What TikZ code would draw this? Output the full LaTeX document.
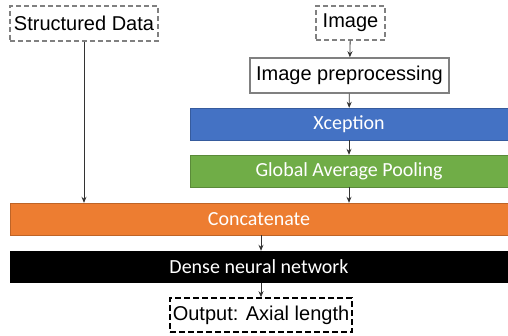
\documentclass[tikz,border=0pt]{standalone}
\usepackage{fontspec}
\setmainfont{Liberation Sans}
\newfontfamily\calfont{Carlito}
\usepackage{tikz}
\usetikzlibrary{arrows.meta}
\definecolor{xblue}{HTML}{4472C4}
\definecolor{pgreen}{HTML}{70AD47}
\definecolor{corange}{HTML}{ED7D31}
\definecolor{boxgray}{HTML}{808080}

\tikzset{
  inbox/.style={draw=boxgray, dashed, dash pattern=on 5pt off 3pt, line width=1.3pt, inner sep=0pt, font=\fontsize{20}{24}\selectfont},
  prebox/.style={draw=boxgray, line width=1.5pt, inner sep=0pt, font=\fontsize{20}{24}\selectfont},
  layer/.style={inner sep=0pt, text=white, font=\calfont\fontsize{20}{24}\selectfont},
  outbox/.style={draw=black, dash pattern=on 6pt off 3pt, line width=1.6pt, inner sep=0pt, font=\fontsize{20}{24}\selectfont},
  flow/.style={draw=black!80, line width=0.8pt, -{Stealth[length=6pt,width=5pt]}}
}

\begin{document}
\begin{tikzpicture}[x=1pt,y=1pt]
 \useasboundingbox (0,0) rectangle (508,-336);
 %inputs
 \node[inbox, minimum width=148pt, minimum height=35pt] (sd) at (84,-23.5) {Structured Data};
 \node[inbox, minimum width=69pt, minimum height=34pt] (img) at (350.5,-23) {Image};
 \node[prebox, minimum width=199pt, minimum height=35pt] (prep) at (349.5,-75.5) {Image preprocessing};
 %image branch
 \node[layer, fill=xblue, draw=xblue!80!black, minimum width=318pt, minimum height=32pt] (xcp) at (349,-124) {Xception};
 \node[layer, fill=pgreen, draw=pgreen!80!black, minimum width=318pt, minimum height=32pt] (gap) at (349,-171) {Global Average Pooling};
 %merge
 \node[layer, fill=corange, draw=corange!80!black, minimum width=498pt, minimum height=32pt] (cat) at (259,-219) {Concatenate};
 \node[layer, fill=black, minimum width=498pt, minimum height=32pt] (dnn) at (259,-267) {Dense neural network};
 \node[outbox, minimum width=182pt, minimum height=34pt] (out) at (261,-315) {Output: Axial length};
 %arrows
 \draw[flow] (sd.south) -- (sd.south |- cat.north);
 \draw[flow] (img) -- (prep);
 \draw[flow] (prep) -- (xcp);
 \draw[flow] (xcp) -- (gap);
 \draw[flow] (gap.south) -- (gap.south |- cat.north);
 \draw[flow] (out.north |- cat.south) -- (out.north |- dnn.north);
 \draw[flow] (dnn.south -| out.north) -- (out.north);
\end{tikzpicture}
\end{document}
